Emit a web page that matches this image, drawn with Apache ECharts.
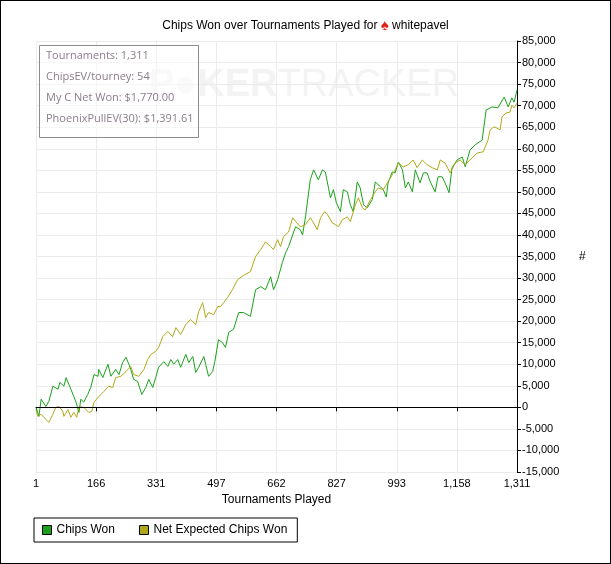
<!DOCTYPE html>
<html>
<head>
<meta charset="utf-8">
<script src="https://cdn.jsdelivr.net/npm/echarts@6/dist/echarts.min.js"></script>
<style>
  html, body { margin: 0; padding: 0; background: #fff; }
  #grafico { width: 609px; height: 562px; border: 1px solid #000; }
</style>
</head>
<body>
<div id="grafico"></div>
<script>
// dados
var torneiosGanho = [1,9,15,28,36,47,61,66,77,83,96,110,118,123,131,142,150,159,170,172,183,197,205,218,227,237,246,254,259,267,278,289,300,308,319,327,335,349,360,368,376,387,395,409,417,428,436,444,458,463,471,482,488,498,509,517,526,539,553,566,585,599,613,626,640,648,659,672,681,689,700,708,721,727,735,748,757,770,781,789,803,811,819,830,838,849,857,865,876,884,893,903,917,925,939,947,955,960,971,979,988,999,1007,1015,1026,1034,1047,1056,1066,1075,1088,1096,1107,1115,1126,1134,1148,1162,1170,1183,1197,1216,1227,1243,1259,1276,1287,1297,1303,1311];
var chipsGanhos = [0,-2100,1900,200,1400,4900,4200,5800,4900,6900,4200,1200,-1200,1900,1200,3000,4600,7600,7200,8800,6900,10000,7200,8800,7600,10400,11600,10000,8800,6500,6000,3000,4600,6500,4600,6900,9300,10600,9500,11100,10000,11100,9300,12300,10400,11800,8100,9300,11800,10000,7200,8300,10600,15700,15000,13900,17400,18100,22000,22000,21100,27300,28000,27300,30300,27300,29600,33600,35900,37300,40000,41900,41200,40000,44200,52800,55100,52800,55100,54600,48600,50500,47500,45400,50500,50000,47000,45400,52300,50900,47000,46300,48200,52300,51200,50500,48800,52100,54600,54400,56900,55100,50900,52300,50000,55100,52100,54400,54400,52300,50000,53500,53500,52100,49800,55600,57400,58100,55800,59700,60900,62000,69000,69700,69500,72000,69700,71800,70800,73600];

var torneiosEsperado = [1,6,15,28,36,47,55,64,74,77,88,96,104,112,118,131,145,153,159,172,186,199,210,218,232,246,259,267,281,295,305,314,327,335,346,360,373,382,395,409,422,436,444,455,463,471,485,496,504,512,523,536,550,566,585,599,613,626,640,648,659,667,675,689,700,708,721,735,748,757,767,776,787,795,808,816,825,835,849,857,871,879,890,898,912,925,933,947,958,966,979,988,1001,1015,1028,1039,1053,1066,1080,1094,1102,1115,1129,1143,1156,1170,1183,1202,1219,1232,1238,1249,1265,1270,1281,1292,1297,1303,1311];
var chipsEsperados = [-500,-2100,-1600,-2800,-3500,-1600,0,200,-900,-2100,-500,-2300,-1200,-2300,200,0,-1200,-900,1200,2500,3700,4900,4600,6900,7200,8300,9500,7600,7200,8800,11100,12300,13000,13900,16400,17600,16400,18500,16900,19200,20400,19200,22200,24300,20800,22000,21500,23400,23400,24300,25500,27300,29600,30600,31500,35000,36600,38400,37300,36600,38900,37300,39600,40700,44000,43100,41900,42400,44000,42800,41200,44000,45400,44700,42800,42400,41900,43500,44200,43100,47000,48600,46300,45800,48200,50000,50900,50500,52100,53200,55100,56700,55800,56300,57400,55600,57400,56300,55600,55100,57400,56700,54400,56700,57400,56300,57400,59000,59300,62000,64400,65100,64400,67400,68300,68500,70100,69500,70600];

var rotulosX = ["1","166","331","497","662","827","993","1,158","1,311"];
var infoTextos = ["Tournaments: 1,311", "ChipsEV/tourney: 54", "My C Net Won: $1,770.00", "PhoenixPullEV(30): $1,391.61"];

function juntar(xs, ys) {
    return xs.map((x, i) => [x, ys[i]]);
}

var posicoesX = rotulosX.map((r, i) => 1 + i * 1310 / 8);

var grafico = echarts.init(document.getElementById("grafico"));

var option = {
    animation: false,
    textStyle: { fontFamily: "Liberation Sans, Arial, sans-serif" },
    title: {
        text: "Chips Won over Tournaments Played for {s|♠} whitepavel",
        left: "center",
        top: 12,
        textStyle: {
            fontSize: 12, fontWeight: "normal", color: "#000",
            rich: { s: { color: "#e0261b", fontSize: 15 } }
        }
    },
    grid: { left: 35, right: 93, top: 40, bottom: 91 },
    legend: {
        left: 33, top: 517,
        orient: "horizontal",
        padding: [6, 10, 6, 8],
        borderColor: "#000", borderWidth: 1,
        itemWidth: 9, itemHeight: 9, itemGap: 24,
        icon: "rect",
        textStyle: { fontSize: 12, color: "#000" },
        data: [
            { name: "Chips Won", itemStyle: { borderColor: "#000", borderWidth: 1 } },
            { name: "Net Expected Chips Won", itemStyle: { borderColor: "#000", borderWidth: 1 } }
        ]
    },
    xAxis: {
        type: "value",
        min: 1, max: 1311,
        name: "Tournaments Played",
        nameLocation: "middle",
        nameGap: 22,
        nameTextStyle: { fontSize: 12, color: "#000" },
        axisLine: { lineStyle: { color: "#000" } },
        axisTick: { customValues: posicoesX, length: 4, lineStyle: { color: "#000" } },
        axisLabel: {
            customValues: posicoesX,
            color: "#000", fontSize: 11, margin: 6,
            formatter: (v) => {
                let i = Math.round((v - 1) * 8 / 1310);
                return rotulosX[i];
            }
        },
        splitLine: { show: true, lineStyle: { color: "#ebebeb" } }
    },
    yAxis: {
        type: "value",
        position: "right",
        min: -15000, max: 85000, interval: 5000,
        name: "#",
        nameLocation: "middle",
        nameGap: 62,
        nameRotate: 0,
        nameTextStyle: { fontSize: 12, color: "#000" },
        axisLine: { show: true, lineStyle: { color: "#000" } },
        axisTick: { show: true, length: 4, lineStyle: { color: "#000" } },
        axisLabel: {
            color: "#000", fontSize: 11, margin: 5,
            formatter: (v) => v.toLocaleString("en-US")
        },
        splitLine: { show: true, lineStyle: { color: "#ebebeb" } }
    },
    graphic: [
        {
            type: "text", left: 148, top: 66, silent: true, z: 0,
            style: {
                text: "{a|P●KER}{b|TRACKER}",
                rich: {
                    a: { fontSize: 38, fontWeight: "bold", fill: "#f3f3f3", fontFamily: "Liberation Sans" },
                    b: { fontSize: 38, fill: "#f3f3f3", fontFamily: "Liberation Sans" }
                }
            }
        },
        {
            type: "rect", left: 38, top: 44, z: 10,
            shape: { width: 159, height: 92 },
            style: { fill: "rgba(255,255,255,0.5)", stroke: "#8c8c8c", lineWidth: 1 }
        }
    ].concat(infoTextos.map((t, i) => ({
        type: "text", left: 45, top: 49 + i * 21, z: 11,
        style: { text: t, fontSize: 11, fill: "#8a7d8a", fontFamily: "Open Sans" }
    }))),
    series: [
        {
            name: "Chips Won",
            type: "line",
            data: juntar(torneiosGanho, chipsGanhos),
            showSymbol: false,
            lineStyle: { width: 1, color: "#1aa11a" },
            itemStyle: { color: "#1aa11a" },
            markLine: {
                silent: true, symbol: "none", label: { show: false },
                lineStyle: { color: "#000", type: "solid", width: 1 },
                data: [{ yAxis: 0 }]
            }
        },
        {
            name: "Net Expected Chips Won",
            type: "line",
            data: juntar(torneiosEsperado, chipsEsperados),
            showSymbol: false,
            lineStyle: { width: 1, color: "#b0a81a" },
            itemStyle: { color: "#b0a81a" }
        }
    ]
};

grafico.setOption(option);
</script>
</body>
</html>
